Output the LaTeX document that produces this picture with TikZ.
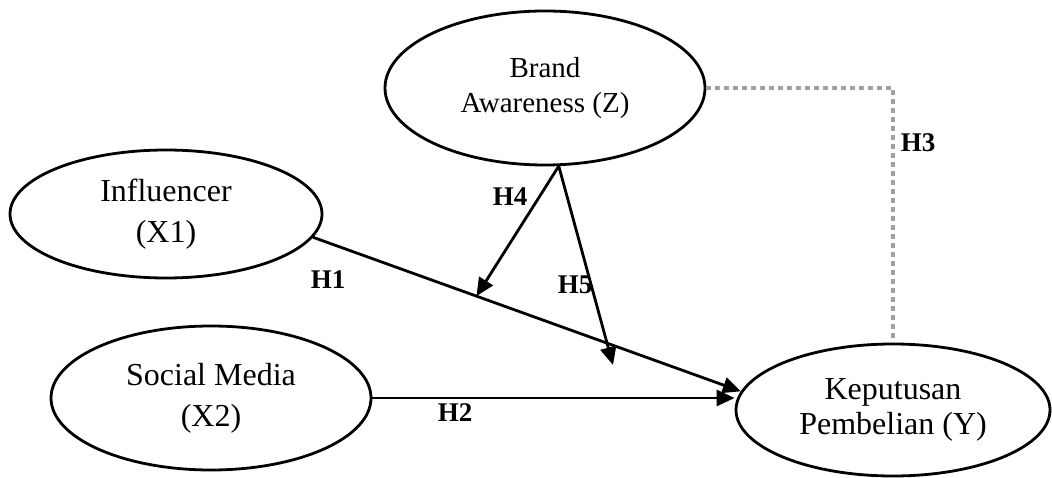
\documentclass[tikz,border=0pt]{standalone}
\usepackage{fontspec}
\setmainfont{Liberation Serif}
\usetikzlibrary{arrows.meta,shapes.geometric}
\begin{document}
\begin{tikzpicture}[x=1pt,y=-1pt,
  latent/.style={draw,ellipse,line width=2.8pt,inner sep=0pt,align=center,font=\fontsize{32}{41}\selectfont},
  arr/.style={line width=2.8pt,-{Triangle[length=18pt,width=16pt]}},
  dotline/.style={draw={rgb,255:red,160;green,160;blue,160},line width=4.5pt,dash pattern=on 4.5pt off 4.5pt},
  hlab/.style={font=\fontsize{27}{30}\selectfont\bfseries,inner sep=0pt}]
\useasboundingbox (0,0) rectangle (1052,478);
\node[latent,minimum width=312pt,minimum height=128pt] (X1) at (166,214) {Influencer\\(X1)};
\node[latent,minimum width=320pt,minimum height=144pt] (X2) at (211,398) {Social Media\\(X2)};
\node[latent,minimum width=320pt,minimum height=154pt,font=\fontsize{29}{35}\selectfont] (Z) at (545,88) {Brand\\Awareness (Z)};
\node[latent,minimum width=314pt,minimum height=132pt,font=\fontsize{32}{35}\selectfont] (Y) at (893,410) {Keputusan\\Pembelian (Y)};
\draw[arr] (X1.-9) -- coordinate[pos=0.382] (h4end) (Y.173);
\draw[arr] (X2.east) -- (X2.east -| Y.west);
\coordinate (h5end) at (613,365);
\draw[arr] (Z.-80.4) -- (h4end);
\draw[arr] (Z.-80.4) -- (h5end);
\draw[dotline] (Z.east) -| (Y.north);
\node[hlab] (H1) at (328,280) {H1};
\node[hlab] (H2) at (455,413) {H2};
\node[hlab] (H3) at (918,143) {H3};
\node[hlab] (H4) at (510,197) {H4};
\node[hlab] (H5) at (575,285) {H5};
\end{tikzpicture}
\end{document}
